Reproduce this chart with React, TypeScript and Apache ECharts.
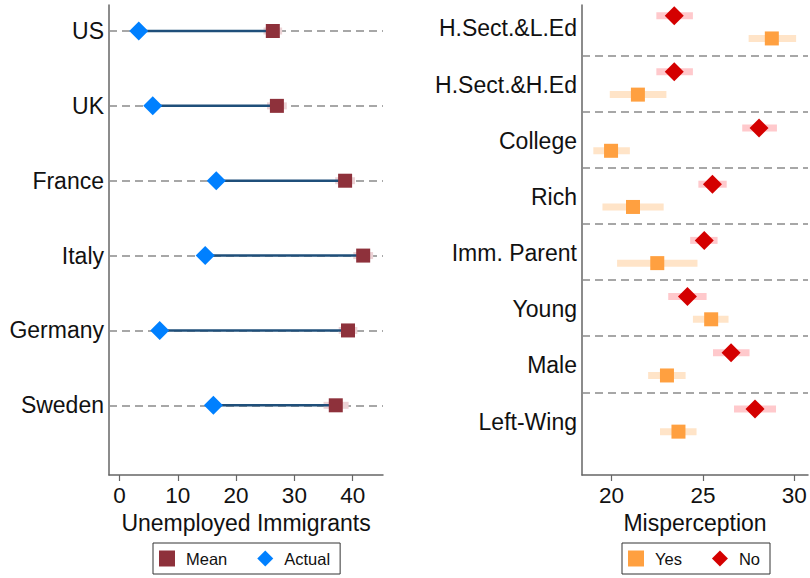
import React, { useEffect, useRef } from "react";
import * as echarts from "echarts";

// Left panel: unemployed immigrants (%)
const countries = ["US", "UK", "France", "Italy", "Germany", "Sweden"];
const actualValues = [3.3, 5.7, 16.6, 14.7, 6.9, 16.1];
const meanValues = [26.3, 27.0, 38.7, 41.8, 39.2, 37.1];
const meanLow = [24.7, 25.3, 37.0, 40.1, 37.6, 35.0];
const meanHigh = [27.9, 28.7, 40.4, 43.5, 40.8, 39.3];
const leftTicks = [0, 10, 20, 30, 40];

// Right panel: misperception by group
const groups = ["H.Sect.&L.Ed", "H.Sect.&H.Ed", "College", "Rich", "Imm. Parent", "Young", "Male", "Left-Wing"];
const yesValues = [28.77, 21.44, 19.97, 21.17, 22.5, 25.45, 23.03, 23.66];
const yesLow = [27.5, 19.9, 19.0, 19.5, 20.3, 24.45, 22.0, 22.65];
const yesHigh = [30.1, 23.0, 21.0, 22.85, 24.7, 26.4, 24.05, 24.65];
const noValues = [23.43, 23.43, 28.07, 25.52, 25.07, 24.15, 26.54, 27.85];
const noLow = [22.45, 22.45, 27.15, 24.75, 24.3, 23.1, 25.55, 26.7];
const noHigh = [24.45, 24.45, 29.05, 26.3, 25.8, 25.2, 27.55, 29.0];
const rightTicks = [20, 25, 30];

const FONT = "Liberation Sans, Arial, Helvetica, sans-serif";
const NO_OFF = 0.295;
const YES_OFF = 0.7;
const LABEL_OFF = 0.52;

function rangeBar(color: string, h: number) {
  return (params: any, api: any) => {
    const lo = api.value(0);
    const hi = api.value(1);
    const y = api.value(2);
    const p1 = api.coord([lo, y]);
    const p2 = api.coord([hi, y]);
    return {
      type: "rect",
      shape: { x: p1[0], y: p1[1] - h / 2, width: p2[0] - p1[0], height: h },
      style: { fill: color },
    };
  };
}

export default function App() {
  const ref = useRef<HTMLDivElement>(null);
  useEffect(() => {
    if (!ref.current) return;
    const chart = echarts.init(ref.current, null, { renderer: "svg" });
    const axisColor = "#666";
    const dashed = { type: [8, 5] as any, color: "#8a8a8a", width: 1.5 };

    const leftRows = countries.map((_, i) => i + 1);
    const sepRows = groups.slice(1).map((_, i) => i + 1);

    const legendBase = {
      orient: "horizontal",
      borderColor: "#333",
      borderWidth: 1,
      backgroundColor: "#fff",
      padding: [7, 10, 7, 6],
      itemWidth: 16,
      itemHeight: 16,
      itemGap: 30,
      selectedMode: false,
      textStyle: { fontSize: 16.5, color: "#111", fontFamily: FONT, padding: [0, 0, 0, 6] },
    };

    const option: any = {
      animation: false,
      backgroundColor: "#fff",
      textStyle: { fontFamily: FONT },
      grid: [
        { left: 109, top: 5, width: 274, height: 470 },
        { left: 582, top: 5, width: 226, height: 470 },
      ],
      xAxis: [
        {
          gridIndex: 0,
          type: "value",
          min: -1.8,
          max: 45.2,
          axisLine: { show: true, onZero: false, lineStyle: { color: axisColor, width: 1.5 } },
          axisTick: { show: true, length: 6, customValues: leftTicks, lineStyle: { color: axisColor, width: 1.2 } },
          axisLabel: { customValues: leftTicks, fontSize: 22.5, color: "#111", margin: 9, fontFamily: FONT },
          splitLine: { show: false },
          name: "Unemployed Immigrants",
          nameLocation: "middle",
          nameGap: 36,
          nameTextStyle: { fontSize: 23, color: "#111", fontFamily: FONT },
        },
        {
          gridIndex: 1,
          type: "value",
          min: 18.38,
          max: 30.75,
          axisLine: { show: true, onZero: false, lineStyle: { color: axisColor, width: 1.5 } },
          axisTick: { show: true, length: 6, customValues: rightTicks, lineStyle: { color: axisColor, width: 1.2 } },
          axisLabel: { customValues: rightTicks, fontSize: 22.5, color: "#111", margin: 9, fontFamily: FONT },
          splitLine: { show: false },
          name: "Misperception",
          nameLocation: "middle",
          nameGap: 36,
          nameTextStyle: { fontSize: 23, color: "#111", fontFamily: FONT },
        },
      ],
      yAxis: [
        {
          gridIndex: 0,
          type: "value",
          inverse: true,
          min: 0.6527,
          max: 6.931,
          axisLine: { show: true, onZero: false, lineStyle: { color: axisColor, width: 1.5 } },
          axisTick: { show: false },
          splitLine: { show: false },
          axisLabel: {
            customValues: leftRows,
            formatter: (v: number) => countries[Math.round(v) - 1] ?? "",
            fontSize: 23,
            color: "#111",
            margin: 5,
            fontFamily: FONT,
          },
        },
        {
          gridIndex: 1,
          type: "value",
          inverse: true,
          min: 0.1045,
          max: 8.472,
          axisLine: { show: true, onZero: false, lineStyle: { color: axisColor, width: 1.5 } },
          axisTick: { show: false },
          splitLine: { show: false },
          axisLabel: {
            customValues: groups.map((_, i) => i + LABEL_OFF),
            formatter: (v: number) => groups[Math.round(v - LABEL_OFF)] ?? "",
            fontSize: 23,
            color: "#111",
            margin: 5,
            fontFamily: FONT,
          },
        },
      ],
      legend: [
        { ...legendBase, data: ["Mean", "Actual"], left: 153, top: 543 },
        { ...legendBase, data: ["Yes", "No"], left: 622, top: 543 },
      ],
      series: [
        // left dashed row lines
        {
          name: "rowsLeft",
          type: "scatter",
          xAxisIndex: 0,
          yAxisIndex: 0,
          data: [],
          z: 1,
          silent: true,
          markLine: {
            z: 1,
            silent: true,
            symbol: "none",
            label: { show: false },
            lineStyle: dashed,
            data: leftRows.map((r) => ({ yAxis: r })),
          },
        },
        // left mean CI
        {
          name: "meanCI",
          type: "custom",
          xAxisIndex: 0,
          yAxisIndex: 0,
          z: 2,
          silent: true,
          renderItem: rangeBar("#ecd3d6", 7),
          encode: { x: [0, 1], y: 2 },
          data: countries.map((_, i) => [meanLow[i], meanHigh[i], i + 1]),
        },
        // connecting lines
        {
          name: "connect",
          type: "custom",
          xAxisIndex: 0,
          yAxisIndex: 0,
          z: 3,
          silent: true,
          renderItem: (params: any, api: any) => {
            const p1 = api.coord([api.value(0), api.value(2)]);
            const p2 = api.coord([api.value(1), api.value(2)]);
            return {
              type: "line",
              shape: { x1: p1[0], y1: p1[1], x2: p2[0], y2: p2[1] },
              style: { stroke: "#1f4f7a", lineWidth: 2.5 },
            };
          },
          encode: { x: [0, 1], y: 2 },
          data: countries.map((_, i) => [actualValues[i], meanValues[i], i + 1]),
        },
        {
          name: "Mean",
          type: "scatter",
          xAxisIndex: 0,
          yAxisIndex: 0,
          z: 4,
          symbol: "rect",
          symbolSize: 14,
          itemStyle: { color: "#8e313b", opacity: 1 },
          data: countries.map((_, i) => [meanValues[i], i + 1]),
        },
        {
          name: "Actual",
          type: "scatter",
          xAxisIndex: 0,
          yAxisIndex: 0,
          z: 4,
          symbol: "diamond",
          symbolSize: 19,
          itemStyle: { color: "#0080ff", opacity: 1 },
          data: countries.map((_, i) => [actualValues[i], i + 1]),
        },
        // right separators
        {
          name: "rowsRight",
          type: "scatter",
          xAxisIndex: 1,
          yAxisIndex: 1,
          data: [],
          z: 1,
          silent: true,
          markLine: {
            z: 1,
            silent: true,
            symbol: "none",
            label: { show: false },
            lineStyle: dashed,
            data: sepRows.map((r) => ({ yAxis: r })),
          },
        },
        {
          name: "noCI",
          type: "custom",
          xAxisIndex: 1,
          yAxisIndex: 1,
          z: 2,
          silent: true,
          renderItem: rangeBar("#ffc9cc", 7),
          encode: { x: [0, 1], y: 2 },
          data: groups.map((_, i) => [noLow[i], noHigh[i], i + NO_OFF]),
        },
        {
          name: "yesCI",
          type: "custom",
          xAxisIndex: 1,
          yAxisIndex: 1,
          z: 2,
          silent: true,
          renderItem: rangeBar("#ffe4c8", 7),
          encode: { x: [0, 1], y: 2 },
          data: groups.map((_, i) => [yesLow[i], yesHigh[i], i + YES_OFF]),
        },
        {
          name: "Yes",
          type: "scatter",
          xAxisIndex: 1,
          yAxisIndex: 1,
          z: 4,
          symbol: "rect",
          symbolSize: 14,
          itemStyle: { color: "#ffa040", opacity: 1 },
          data: groups.map((_, i) => [yesValues[i], i + YES_OFF]),
        },
        {
          name: "No",
          type: "scatter",
          xAxisIndex: 1,
          yAxisIndex: 1,
          z: 4,
          symbol: "diamond",
          symbolSize: 19,
          itemStyle: { color: "#d40000", opacity: 1 },
          data: groups.map((_, i) => [noValues[i], i + NO_OFF]),
        },
      ],
    };
    chart.setOption(option);
    return () => chart.dispose();
  }, []);
  return (
    <div
      ref={ref}
      style={{ position: "fixed", left: 0, top: 0, width: 810, height: 578, background: "#fff" }}
    />
  );
}
